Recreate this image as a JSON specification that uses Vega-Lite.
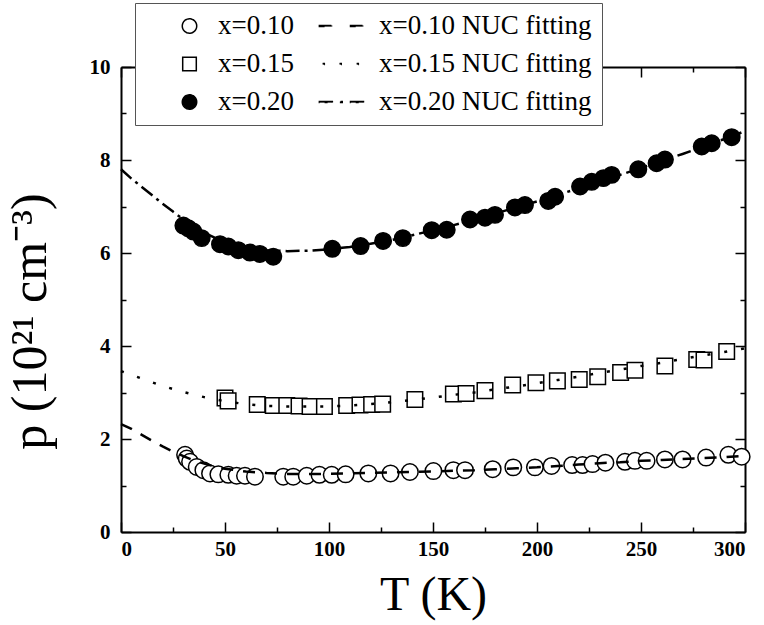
{
  "$schema": "https://vega.github.io/schema/vega-lite/v6.json",
  "width": 624,
  "height": 465,
  "autosize": {"type": "none"},
  "padding": {"left": 121, "top": 67, "right": 19, "bottom": 93},
  "background": "white",
  "config": {
    "view": {"stroke": null},
    "axis": {
      "grid": false,
      "domainColor": "black",
      "domainWidth": 2,
      "tickColor": "black",
      "tickWidth": 1.5,
      "tickSize": -10,
      "labelFont": "Liberation Serif",
      "labelFontWeight": "bold",
      "labelFontSize": 21,
      "labelColor": "black",
      "titleFont": "Liberation Serif",
      "titleFontWeight": "normal",
      "titleColor": "black"
    }
  },
  "datasets": {
    "pts": [
      {"s": "x=0.10", "T": 30.8, "p": 1.66}, {"s": "x=0.10", "T": 31.6, "p": 1.58}, {"s": "x=0.10", "T": 33.2, "p": 1.51},
      {"s": "x=0.10", "T": 36.4, "p": 1.40}, {"s": "x=0.10", "T": 39.6, "p": 1.33}, {"s": "x=0.10", "T": 42.8, "p": 1.26},
      {"s": "x=0.10", "T": 46.8, "p": 1.24}, {"s": "x=0.10", "T": 51.6, "p": 1.23}, {"s": "x=0.10", "T": 55.6, "p": 1.21},
      {"s": "x=0.10", "T": 59.6, "p": 1.21}, {"s": "x=0.10", "T": 64.4, "p": 1.19}, {"s": "x=0.10", "T": 78.0, "p": 1.19},
      {"s": "x=0.10", "T": 82.8, "p": 1.19}, {"s": "x=0.10", "T": 89.3, "p": 1.21}, {"s": "x=0.10", "T": 95.4, "p": 1.23},
      {"s": "x=0.10", "T": 101.3, "p": 1.23}, {"s": "x=0.10", "T": 108.0, "p": 1.24}, {"s": "x=0.10", "T": 118.9, "p": 1.26},
      {"s": "x=0.10", "T": 129.6, "p": 1.26}, {"s": "x=0.10", "T": 138.9, "p": 1.29}, {"s": "x=0.10", "T": 150.2, "p": 1.31},
      {"s": "x=0.10", "T": 159.8, "p": 1.33}, {"s": "x=0.10", "T": 165.4, "p": 1.33}, {"s": "x=0.10", "T": 178.7, "p": 1.35},
      {"s": "x=0.10", "T": 188.6, "p": 1.39}, {"s": "x=0.10", "T": 199.0, "p": 1.39}, {"s": "x=0.10", "T": 207.0, "p": 1.42},
      {"s": "x=0.10", "T": 216.9, "p": 1.44}, {"s": "x=0.10", "T": 221.9, "p": 1.44}, {"s": "x=0.10", "T": 226.7, "p": 1.46},
      {"s": "x=0.10", "T": 232.9, "p": 1.49}, {"s": "x=0.10", "T": 242.3, "p": 1.51}, {"s": "x=0.10", "T": 247.1, "p": 1.53},
      {"s": "x=0.10", "T": 252.7, "p": 1.53}, {"s": "x=0.10", "T": 261.5, "p": 1.56}, {"s": "x=0.10", "T": 270.0, "p": 1.56},
      {"s": "x=0.10", "T": 281.3, "p": 1.60}, {"s": "x=0.10", "T": 292.0, "p": 1.66}, {"s": "x=0.10", "T": 298.4, "p": 1.62},
      {"s": "x=0.15", "T": 50.0, "p": 2.88}, {"s": "x=0.15", "T": 51.5, "p": 2.82}, {"s": "x=0.15", "T": 65.5, "p": 2.74},
      {"s": "x=0.15", "T": 73.2, "p": 2.72}, {"s": "x=0.15", "T": 79.7, "p": 2.72}, {"s": "x=0.15", "T": 85.6, "p": 2.71},
      {"s": "x=0.15", "T": 90.9, "p": 2.70}, {"s": "x=0.15", "T": 97.8, "p": 2.70}, {"s": "x=0.15", "T": 108.5, "p": 2.72},
      {"s": "x=0.15", "T": 114.9, "p": 2.73}, {"s": "x=0.15", "T": 120.5, "p": 2.74}, {"s": "x=0.15", "T": 125.8, "p": 2.75},
      {"s": "x=0.15", "T": 141.3, "p": 2.85}, {"s": "x=0.15", "T": 159.8, "p": 2.97}, {"s": "x=0.15", "T": 165.9, "p": 2.98},
      {"s": "x=0.15", "T": 175.0, "p": 3.04}, {"s": "x=0.15", "T": 188.3, "p": 3.16}, {"s": "x=0.15", "T": 199.5, "p": 3.21},
      {"s": "x=0.15", "T": 209.8, "p": 3.25}, {"s": "x=0.15", "T": 220.3, "p": 3.28}, {"s": "x=0.15", "T": 229.2, "p": 3.34},
      {"s": "x=0.15", "T": 240.2, "p": 3.43}, {"s": "x=0.15", "T": 247.1, "p": 3.48}, {"s": "x=0.15", "T": 261.5, "p": 3.57},
      {"s": "x=0.15", "T": 276.8, "p": 3.71}, {"s": "x=0.15", "T": 280.3, "p": 3.70}, {"s": "x=0.15", "T": 291.2, "p": 3.88},
      {"s": "x=0.20", "T": 30.0, "p": 6.59}, {"s": "x=0.20", "T": 32.4, "p": 6.53}, {"s": "x=0.20", "T": 34.8, "p": 6.46},
      {"s": "x=0.20", "T": 38.8, "p": 6.32}, {"s": "x=0.20", "T": 47.6, "p": 6.19}, {"s": "x=0.20", "T": 51.6, "p": 6.14},
      {"s": "x=0.20", "T": 56.4, "p": 6.06}, {"s": "x=0.20", "T": 62.0, "p": 6.01}, {"s": "x=0.20", "T": 66.8, "p": 5.98},
      {"s": "x=0.20", "T": 73.2, "p": 5.92}, {"s": "x=0.20", "T": 101.6, "p": 6.09}, {"s": "x=0.20", "T": 115.2, "p": 6.15},
      {"s": "x=0.20", "T": 126.0, "p": 6.26}, {"s": "x=0.20", "T": 135.5, "p": 6.32}, {"s": "x=0.20", "T": 149.4, "p": 6.49},
      {"s": "x=0.20", "T": 156.6, "p": 6.50}, {"s": "x=0.20", "T": 167.8, "p": 6.72}, {"s": "x=0.20", "T": 175.0, "p": 6.76},
      {"s": "x=0.20", "T": 179.8, "p": 6.82}, {"s": "x=0.20", "T": 189.4, "p": 6.98}, {"s": "x=0.20", "T": 194.2, "p": 7.03},
      {"s": "x=0.20", "T": 205.4, "p": 7.12}, {"s": "x=0.20", "T": 208.7, "p": 7.21}, {"s": "x=0.20", "T": 220.7, "p": 7.43},
      {"s": "x=0.20", "T": 226.3, "p": 7.53}, {"s": "x=0.20", "T": 231.9, "p": 7.61}, {"s": "x=0.20", "T": 235.9, "p": 7.68},
      {"s": "x=0.20", "T": 248.7, "p": 7.80}, {"s": "x=0.20", "T": 257.5, "p": 7.93}, {"s": "x=0.20", "T": 261.5, "p": 8.01},
      {"s": "x=0.20", "T": 279.2, "p": 8.29}, {"s": "x=0.20", "T": 284.0, "p": 8.36}, {"s": "x=0.20", "T": 293.6, "p": 8.49}
    ],
    "fit": [
      {"s": "x=0.10 NUC fitting", "T": 0, "p": 2.32}, {"s": "x=0.10 NUC fitting", "T": 5, "p": 2.22}, {"s": "x=0.10 NUC fitting", "T": 10, "p": 2.09},
      {"s": "x=0.10 NUC fitting", "T": 15, "p": 1.96}, {"s": "x=0.10 NUC fitting", "T": 20, "p": 1.84}, {"s": "x=0.10 NUC fitting", "T": 25, "p": 1.73},
      {"s": "x=0.10 NUC fitting", "T": 30, "p": 1.63}, {"s": "x=0.10 NUC fitting", "T": 35, "p": 1.54}, {"s": "x=0.10 NUC fitting", "T": 40, "p": 1.47},
      {"s": "x=0.10 NUC fitting", "T": 45, "p": 1.41}, {"s": "x=0.10 NUC fitting", "T": 50, "p": 1.36}, {"s": "x=0.10 NUC fitting", "T": 55, "p": 1.33},
      {"s": "x=0.10 NUC fitting", "T": 60, "p": 1.30}, {"s": "x=0.10 NUC fitting", "T": 70, "p": 1.27}, {"s": "x=0.10 NUC fitting", "T": 80, "p": 1.25},
      {"s": "x=0.10 NUC fitting", "T": 90, "p": 1.25}, {"s": "x=0.10 NUC fitting", "T": 100, "p": 1.25}, {"s": "x=0.10 NUC fitting", "T": 110, "p": 1.26},
      {"s": "x=0.10 NUC fitting", "T": 120, "p": 1.27}, {"s": "x=0.10 NUC fitting", "T": 130, "p": 1.28}, {"s": "x=0.10 NUC fitting", "T": 140, "p": 1.29},
      {"s": "x=0.10 NUC fitting", "T": 150, "p": 1.30}, {"s": "x=0.10 NUC fitting", "T": 160, "p": 1.32}, {"s": "x=0.10 NUC fitting", "T": 170, "p": 1.33},
      {"s": "x=0.10 NUC fitting", "T": 180, "p": 1.35}, {"s": "x=0.10 NUC fitting", "T": 190, "p": 1.37}, {"s": "x=0.10 NUC fitting", "T": 200, "p": 1.39},
      {"s": "x=0.10 NUC fitting", "T": 210, "p": 1.42}, {"s": "x=0.10 NUC fitting", "T": 220, "p": 1.45}, {"s": "x=0.10 NUC fitting", "T": 230, "p": 1.48},
      {"s": "x=0.10 NUC fitting", "T": 240, "p": 1.50}, {"s": "x=0.10 NUC fitting", "T": 250, "p": 1.53}, {"s": "x=0.10 NUC fitting", "T": 260, "p": 1.55},
      {"s": "x=0.10 NUC fitting", "T": 270, "p": 1.57}, {"s": "x=0.10 NUC fitting", "T": 280, "p": 1.59}, {"s": "x=0.10 NUC fitting", "T": 290, "p": 1.61},
      {"s": "x=0.10 NUC fitting", "T": 300, "p": 1.64},
      {"s": "x=0.15 NUC fitting", "T": 0, "p": 3.46}, {"s": "x=0.15 NUC fitting", "T": 10, "p": 3.30}, {"s": "x=0.15 NUC fitting", "T": 20, "p": 3.14},
      {"s": "x=0.15 NUC fitting", "T": 30, "p": 3.01}, {"s": "x=0.15 NUC fitting", "T": 40, "p": 2.90}, {"s": "x=0.15 NUC fitting", "T": 50, "p": 2.81},
      {"s": "x=0.15 NUC fitting", "T": 60, "p": 2.75}, {"s": "x=0.15 NUC fitting", "T": 70, "p": 2.71}, {"s": "x=0.15 NUC fitting", "T": 80, "p": 2.70},
      {"s": "x=0.15 NUC fitting", "T": 90, "p": 2.70}, {"s": "x=0.15 NUC fitting", "T": 100, "p": 2.70}, {"s": "x=0.15 NUC fitting", "T": 110, "p": 2.72},
      {"s": "x=0.15 NUC fitting", "T": 120, "p": 2.75}, {"s": "x=0.15 NUC fitting", "T": 130, "p": 2.79}, {"s": "x=0.15 NUC fitting", "T": 140, "p": 2.84},
      {"s": "x=0.15 NUC fitting", "T": 150, "p": 2.89}, {"s": "x=0.15 NUC fitting", "T": 160, "p": 2.95}, {"s": "x=0.15 NUC fitting", "T": 170, "p": 3.00},
      {"s": "x=0.15 NUC fitting", "T": 180, "p": 3.07}, {"s": "x=0.15 NUC fitting", "T": 190, "p": 3.13}, {"s": "x=0.15 NUC fitting", "T": 200, "p": 3.20},
      {"s": "x=0.15 NUC fitting", "T": 210, "p": 3.27}, {"s": "x=0.15 NUC fitting", "T": 220, "p": 3.34}, {"s": "x=0.15 NUC fitting", "T": 230, "p": 3.42},
      {"s": "x=0.15 NUC fitting", "T": 240, "p": 3.49}, {"s": "x=0.15 NUC fitting", "T": 250, "p": 3.57}, {"s": "x=0.15 NUC fitting", "T": 260, "p": 3.64},
      {"s": "x=0.15 NUC fitting", "T": 270, "p": 3.72}, {"s": "x=0.15 NUC fitting", "T": 280, "p": 3.80}, {"s": "x=0.15 NUC fitting", "T": 290, "p": 3.87},
      {"s": "x=0.15 NUC fitting", "T": 300, "p": 3.95},
      {"s": "x=0.20 NUC fitting", "T": 0, "p": 7.80}, {"s": "x=0.20 NUC fitting", "T": 5, "p": 7.60}, {"s": "x=0.20 NUC fitting", "T": 10, "p": 7.42},
      {"s": "x=0.20 NUC fitting", "T": 15, "p": 7.24}, {"s": "x=0.20 NUC fitting", "T": 20, "p": 7.06}, {"s": "x=0.20 NUC fitting", "T": 25, "p": 6.89},
      {"s": "x=0.20 NUC fitting", "T": 30, "p": 6.72}, {"s": "x=0.20 NUC fitting", "T": 35, "p": 6.57}, {"s": "x=0.20 NUC fitting", "T": 40, "p": 6.44},
      {"s": "x=0.20 NUC fitting", "T": 45, "p": 6.33}, {"s": "x=0.20 NUC fitting", "T": 50, "p": 6.24}, {"s": "x=0.20 NUC fitting", "T": 60, "p": 6.12},
      {"s": "x=0.20 NUC fitting", "T": 70, "p": 6.06}, {"s": "x=0.20 NUC fitting", "T": 80, "p": 6.04}, {"s": "x=0.20 NUC fitting", "T": 90, "p": 6.05},
      {"s": "x=0.20 NUC fitting", "T": 100, "p": 6.08}, {"s": "x=0.20 NUC fitting", "T": 110, "p": 6.13}, {"s": "x=0.20 NUC fitting", "T": 120, "p": 6.20},
      {"s": "x=0.20 NUC fitting", "T": 130, "p": 6.28}, {"s": "x=0.20 NUC fitting", "T": 140, "p": 6.38}, {"s": "x=0.20 NUC fitting", "T": 150, "p": 6.49},
      {"s": "x=0.20 NUC fitting", "T": 160, "p": 6.60}, {"s": "x=0.20 NUC fitting", "T": 170, "p": 6.72}, {"s": "x=0.20 NUC fitting", "T": 180, "p": 6.85},
      {"s": "x=0.20 NUC fitting", "T": 190, "p": 6.98}, {"s": "x=0.20 NUC fitting", "T": 200, "p": 7.11}, {"s": "x=0.20 NUC fitting", "T": 210, "p": 7.25},
      {"s": "x=0.20 NUC fitting", "T": 220, "p": 7.39}, {"s": "x=0.20 NUC fitting", "T": 230, "p": 7.54}, {"s": "x=0.20 NUC fitting", "T": 240, "p": 7.68},
      {"s": "x=0.20 NUC fitting", "T": 250, "p": 7.83}, {"s": "x=0.20 NUC fitting", "T": 260, "p": 7.98}, {"s": "x=0.20 NUC fitting", "T": 270, "p": 8.13},
      {"s": "x=0.20 NUC fitting", "T": 280, "p": 8.29}, {"s": "x=0.20 NUC fitting", "T": 290, "p": 8.45}, {"s": "x=0.20 NUC fitting", "T": 300, "p": 8.62}
    ]
  },
  "resolve": {"axis": {"x": "independent", "y": "independent"}},
  "layer": [
    {
      "data": {"name": "pts"},
      "mark": {"type": "point", "filled": true, "stroke": "black", "strokeWidth": 1.5, "opacity": 1, "size": 2215},
      "encoding": {
        "x": {
          "field": "T", "type": "quantitative",
          "scale": {"domain": [0, 300], "nice": false},
          "axis": {
            "orient": "bottom",
            "values": [0, 25, 50, 75, 100, 125, 150, 175, 200, 225, 250, 275, 300],
            "labelExpr": "datum.value % 50 === 0 ? datum.label : ''",
            "labelPadding": 16,
            "tickDash": {"condition": {"test": "datum.value % 50 !== 0", "value": [5, 30]}, "value": [1, 0]},
            "title": "T (K)",
            "titleFontSize": 48,
            "titleX": 312,
            "titleY": 77,
            "titleBaseline": "alphabetic"
          }
        },
        "y": {
          "field": "p", "type": "quantitative",
          "scale": {"domain": [0, 10], "nice": false},
          "axis": {
            "orient": "left",
            "values": [0, 1, 2, 3, 4, 5, 6, 7, 8, 9, 10],
            "labelExpr": "datum.value % 2 === 0 ? datum.label : ''",
            "labelPadding": 21,
            "tickDash": {"condition": {"test": "datum.value % 2 !== 0", "value": [5, 30]}, "value": [1, 0]},
            "title": "p   (10²¹  cm⁻³)",
            "titleFontSize": 50,
            "titleAngle": -90,
            "titleX": -76,
            "titleY": 254,
            "titleAlign": "center",
            "titleBaseline": "alphabetic"
          }
        },
        "shape": {
          "field": "s", "type": "nominal",
          "scale": {
            "domain": ["x=0.10", "x=0.15", "x=0.20", "x=0.10 NUC fitting", "x=0.15 NUC fitting", "x=0.20 NUC fitting"],
            "range": [
              "M-0.35,0A0.35,0.35 0 1,0 0.35,0A0.35,0.35 0 1,0 -0.35,0Z",
              "M-0.33,-0.33H0.33V0.33H-0.33Z",
              "M-0.35,0A0.35,0.35 0 1,0 0.35,0A0.35,0.35 0 1,0 -0.35,0Z",
              "M-1.51,-0.03H-0.88V0.03H-1.51Z M0,-0.03H0.63V0.03H0Z",
              "M-1.35,-0.03H-1.27V0.03H-1.35Z M-0.53,-0.03H-0.45V0.03H-0.53Z M0.3,-0.03H0.38V0.03H0.3Z",
              "M-1.51,-0.03H-0.88V0.03H-1.51Z M-0.48,-0.03H-0.4V0.03H-0.48Z M0,-0.03H0.63V0.03H0Z"
            ]
          },
          "legend": {
            "title": null,
            "orient": "none",
            "legendX": 14,
            "legendY": -64,
            "columns": 2,
            "columnPadding": 12,
            "rowPadding": 11,
            "padding": 10,
            "fillColor": "white",
            "strokeColor": "#555555",
            "symbolSize": 1700,
            "symbolOffset": 23,
            "labelOffset": 7,
            "clipHeight": 26,
            "labelFont": "Liberation Serif",
            "labelFontSize": 27,
            "labelColor": "black",
            "labelLimit": 400,
            "encode": {
              "legend": {"strokeWidth": {"value": 1.5}},
              "symbols": {
                "fill": {"value": {"signal": "scale('fill', datum.value)"}},
                "stroke": {"value": "black"},
                "strokeWidth": {"value": 1.5},
                "opacity": {"value": 1}
              }
            }
          }
        },
        "fill": {
          "field": "s", "type": "nominal",
          "scale": {
            "domain": ["x=0.10", "x=0.15", "x=0.20", "x=0.10 NUC fitting", "x=0.15 NUC fitting", "x=0.20 NUC fitting"],
            "range": ["white", "white", "black", "black", "black", "black"]
          },
          "legend": null
        }
      }
    },
    {
      "data": {"name": "fit"},
      "mark": {"type": "line", "stroke": "black", "strokeWidth": 2.5},
      "encoding": {
        "x": {
          "field": "T", "type": "quantitative",
          "axis": {
            "orient": "top", "labels": false, "title": null,
            "values": [0, 25, 50, 75, 100, 125, 150, 175, 200, 225, 250, 275, 300],
            "tickDash": {"condition": {"test": "datum.value % 50 !== 0", "value": [5, 30]}, "value": [1, 0]}
          }
        },
        "y": {
          "field": "p", "type": "quantitative",
          "axis": {
            "orient": "right", "labels": false, "title": null,
            "values": [0, 1, 2, 3, 4, 5, 6, 7, 8, 9, 10],
            "tickDash": {"condition": {"test": "datum.value % 2 !== 0", "value": [5, 30]}, "value": [1, 0]}
          }
        },
        "detail": {"field": "s", "type": "nominal"},
        "strokeDash": {
          "field": "s", "type": "nominal",
          "scale": {
            "domain": ["x=0.10", "x=0.15", "x=0.20", "x=0.10 NUC fitting", "x=0.15 NUC fitting", "x=0.20 NUC fitting"],
            "range": [[1, 0], [1, 0], [1, 0], [12, 10], [3, 14], [14, 5, 3, 5]]
          },
          "legend": null
        }
      }
    }
  ]
}
